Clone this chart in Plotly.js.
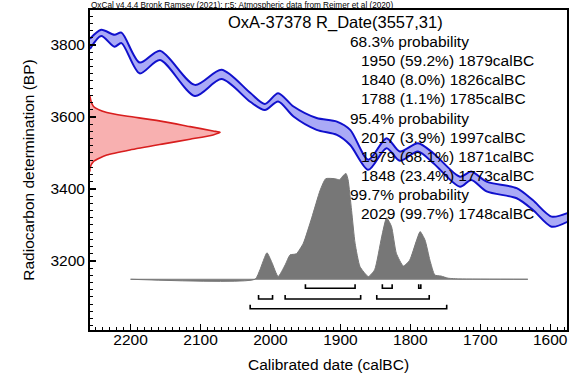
<!DOCTYPE html>
<html>
<head>
<meta charset="utf-8">
<script src="https://cdn.plot.ly/plotly-3.0.1.min.js"></script>
<style>
  html, body { margin: 0; padding: 0; background: #fff; }
  #chart { width: 569px; height: 379px; }
</style>
</head>
<body>
<div id="chart"></div>
<script>
// ---- Calibration curve (IntCal20 band) ----
const calYears   = [2258, 2242, 2223, 2213, 2187, 2158, 2108, 2070, 2029, 2008, 1989, 1967, 1934, 1905, 1886, 1860, 1834, 1815, 1789, 1767, 1729, 1713, 1691, 1648, 1625, 1598, 1575];
const curveUpper = [3817, 3842, 3828, 3834, 3751, 3784, 3689, 3731, 3667, 3636, 3666, 3629, 3597, 3587, 3564, 3481, 3541, 3504, 3527, 3499, 3434, 3448, 3420, 3402, 3369, 3323, 3333];
const curveLower = [3789, 3825, 3795, 3805, 3721, 3758, 3658, 3705, 3642, 3619, 3643, 3601, 3564, 3550, 3522, 3453, 3513, 3478, 3504, 3471, 3406, 3425, 3393, 3374, 3342, 3295, 3309];

const dateBP   = [3661, 3656, 3629, 3612, 3601, 3587, 3573, 3561, 3557, 3550, 3538, 3525, 3508, 3494, 3486, 3476, 3458, 3448];
const dateYear = [2258, 2258, 2253, 2234, 2201, 2153, 2115, 2082, 2072, 2082, 2115, 2153, 2201, 2234, 2244, 2253, 2258, 2258];

// ---- Calibrated probability distribution (relative, peak = 1) ----
const histYears = [2200, 2022, 2015, 2005, 1998, 1989, 1979, 1972, 1963, 1953, 1941, 1929, 1921, 1908, 1901, 1896, 1892, 1889, 1884, 1879, 1872, 1860, 1851, 1841, 1834, 1827, 1820, 1810, 1801, 1791, 1786, 1779, 1772, 1765, 1756, 1746, 1729, 1632];
const histProb  = [0, 0, 0.09, 0.25, 0.16, 0.025, 0.135, 0.23, 0.24, 0.34, 0.58, 0.84, 0.95, 0.95, 0.94, 0.98, 1.0, 0.94, 0.65, 0.34, 0.12, 0.025, 0.09, 0.40, 0.58, 0.50, 0.245, 0.125, 0.18, 0.37, 0.45, 0.37, 0.18, 0.04, 0.03, 0.01, 0.003, 0];

// ---- Highest posterior density ranges (calBC) ----
const range68  = [[1950, 1879], [1840, 1826], [1788, 1785]];
const range95  = [[2017, 1997], [1979, 1871], [1848, 1773]];
const range997 = [[2029, 1748]];

// ---- Text ----
const headerText = 'OxCal v4.4.4 Bronk Ramsey (2021); r:5; Atmospheric data from Reimer et al (2020)';
const titleText = 'OxA-37378 R_Date(3557,31)';
const probLines = [
  ['68.3% probability', 0],
  ['1950 (59.2%) 1879calBC', 1],
  ['1840 (8.0%) 1826calBC', 1],
  ['1788 (1.1%) 1785calBC', 1],
  ['95.4% probability', 0],
  ['2017 (3.9%) 1997calBC', 1],
  ['1979 (68.1%) 1871calBC', 1],
  ['1848 (23.4%) 1773calBC', 1],
  ['99.7% probability', 0],
  ['2029 (99.7%) 1748calBC', 1]
];
const xTitle = 'Calibrated date (calBC)';
const yTitle = 'Radiocarbon determination (BP)';

// ---- Layout constants ----
const X_RANGE = [2258, 1576];
const Y_RANGE = [3008, 3897];
const HIST_BASE = 3149;
const HIST_SCALE = 294;
const BRACKET_LEVELS = [3124, 3094, 3067];
const BRACKET_TICK = 11;
const FONT = 'Liberation Sans, Arial, Helvetica, sans-serif';

const traces = [];

// Calibration band
traces.push({
  x: calYears, y: curveUpper, mode: 'lines',
  line: {color: '#1010cc', width: 2, shape: 'spline', smoothing: 0.8},
  hoverinfo: 'skip', showlegend: false
});
traces.push({
  x: calYears, y: curveLower, mode: 'lines', fill: 'tonexty',
  fillcolor: '#aaaaf6',
  line: {color: '#1010cc', width: 2, shape: 'spline', smoothing: 0.8},
  hoverinfo: 'skip', showlegend: false
});

// Red measurement distribution
traces.push({
  x: dateYear, y: dateBP, mode: 'lines', fill: 'toself',
  fillcolor: '#f8b0b0',
  line: {color: '#d81e1e', width: 1.6, shape: 'spline', smoothing: 0.7},
  hoverinfo: 'skip', showlegend: false
});

// Histogram baseline
traces.push({
  x: [histYears[0], histYears[histYears.length - 1]], y: [HIST_BASE, HIST_BASE],
  mode: 'lines', line: {color: '#808080', width: 1},
  hoverinfo: 'skip', showlegend: false
});
// Histogram
traces.push({
  x: histYears, y: histProb.map(p => HIST_BASE + p * HIST_SCALE),
  mode: 'lines', fill: 'tonexty', fillcolor: '#777777',
  line: {color: '#777777', width: 1, shape: 'spline', smoothing: 0.5},
  hoverinfo: 'skip', showlegend: false
});

// Range brackets
[range68, range95, range997].forEach((ranges, i) => {
  const lvl = BRACKET_LEVELS[i];
  const bx = [], by = [];
  ranges.forEach(([a, b]) => {
    bx.push(a, a, b, b, null);
    by.push(lvl + BRACKET_TICK, lvl, lvl, lvl + BRACKET_TICK, null);
  });
  traces.push({
    x: bx, y: by, mode: 'lines',
    line: {color: '#000', width: 1.6},
    hoverinfo: 'skip', showlegend: false
  });
});

// Annotations
const PLOT_TOP = 10, PLOT_H = 320, PLOT_L = 90, PLOT_W = 477;
const annotations = [];
annotations.push({
  text: headerText, xref: 'paper', yref: 'paper', x: 0, y: 1 + 4.5 / PLOT_H,
  xanchor: 'left', yanchor: 'middle', showarrow: false,
  borderpad: 0,
  font: {family: FONT, size: 8.2, color: '#000'}
});
annotations.push({
  text: titleText, xref: 'paper', yref: 'paper', x: 0.515, y: 0.96,
  xanchor: 'center', yanchor: 'middle', showarrow: false,
  font: {family: FONT, size: 16.5, color: '#000'}
});
const LINE0 = 41.7, STEP = 19.1;
probLines.forEach(([t, indent], i) => {
  const ypx = LINE0 + i * STEP;
  const xpx = indent ? 359 : 348;
  annotations.push({
    text: t, xref: 'paper', yref: 'paper',
    x: (xpx - PLOT_L) / PLOT_W, y: 1 - (ypx - PLOT_TOP) / PLOT_H,
    xanchor: 'left', yanchor: 'middle', showarrow: false,
    font: {family: FONT, size: 15.5, color: '#000'}
  });
});

const axisCommon = {
  showgrid: false, zeroline: false,
  showline: true, linecolor: '#000', linewidth: 2, mirror: true,
  ticks: 'inside', tickcolor: '#000', tickwidth: 1.3, ticklen: 6,
  tickfont: {family: FONT, size: 15.5, color: '#000'}
};

const layout = {
  width: 569, height: 379,
  margin: {l: 90, r: 2, t: 10, b: 49},
  paper_bgcolor: '#fff', plot_bgcolor: '#fff',
  showlegend: false,
  xaxis: Object.assign({}, axisCommon, {
    range: X_RANGE, tick0: 0, dtick: 100,
    ticklabelstandoff: -6,
    minor: {dtick: 10, tick0: 0, ticks: 'inside', ticklen: 3, tickcolor: '#000', tickwidth: 1},
    title: {text: xTitle, font: {family: FONT, size: 15.5, color: '#000'}, standoff: 13}
  }),
  yaxis: Object.assign({}, axisCommon, {
    range: Y_RANGE, tick0: 0, dtick: 200,
    minor: {dtick: 20, tick0: 0, ticks: 'inside', ticklen: 3, tickcolor: '#000', tickwidth: 1},
    title: {text: yTitle, font: {family: FONT, size: 15.5, color: '#000'}, standoff: 12}
  }),
  annotations: annotations
};

Plotly.newPlot('chart', traces, layout, {staticPlot: true, displayModeBar: false});
</script>
</body>
</html>
